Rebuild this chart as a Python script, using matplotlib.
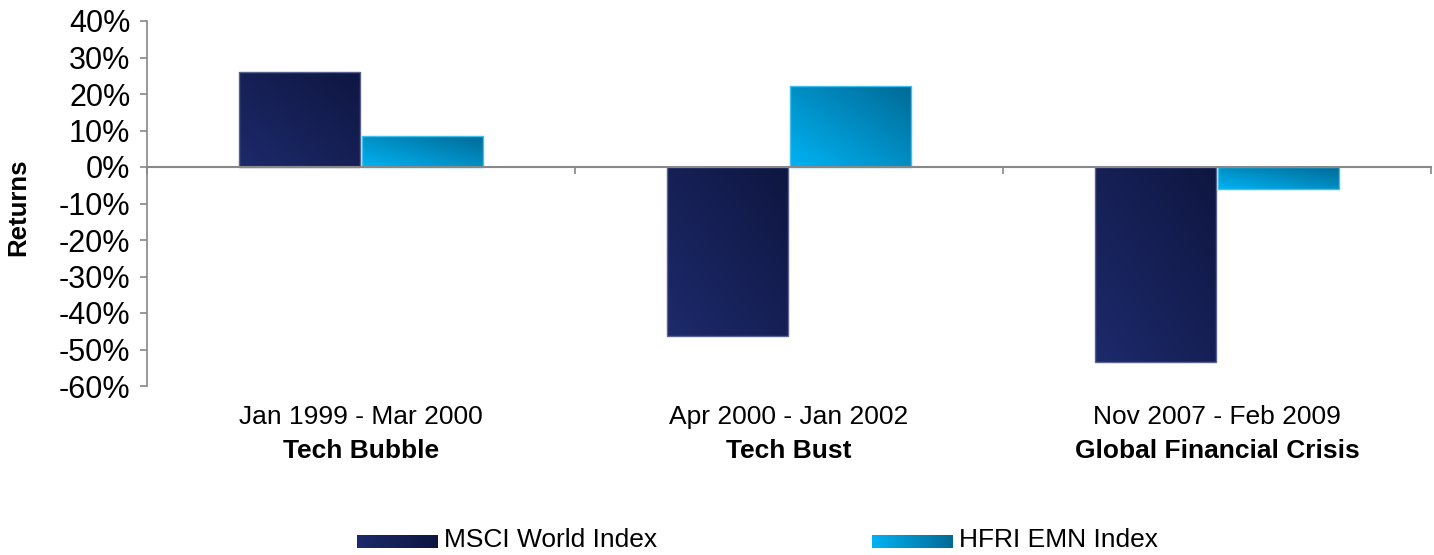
import numpy as np
import matplotlib.pyplot as plt
from matplotlib.colors import LinearSegmentedColormap
from matplotlib.ticker import FuncFormatter, MultipleLocator

periods = ["Jan 1999 - Mar 2000", "Apr 2000 - Jan 2002", "Nov 2007 - Feb 2009"]
events = ["Tech Bubble", "Tech Bust", "Global Financial Crisis"]
series = ["MSCI World Index", "HFRI EMN Index"]
msci = [26.0, -46.3, -53.4]
hfri = [8.5, 22.2, -6.0]

plt.rcParams['font.family'] = ['Liberation Sans', 'DejaVu Sans']

# gradient colours: light (bottom-left) -> dark (top-right)
grads = [("#1d2a6b", "#0e1640"), ("#00b2f2", "#006a96")]
cmaps = [LinearSegmentedColormap.from_list(f"g{i}", g) for i, g in enumerate(grads)]

fig = plt.figure(figsize=(14.34, 5.55), dpi=100)
ax = fig.add_axes([147 / 1434, 1 - 386 / 555, (1431 - 147) / 1434, (386 - 21) / 555])

# diagonal gradient image
gx, gy = np.meshgrid(np.linspace(0, 1, 64), np.linspace(0, 1, 64))
diag = (gx + (1 - gy)) / 2  # origin='upper': row 0 is top

x = np.arange(len(periods))
w = 0.283
gap = 0.0025
for vals, off, cmap, edge in [(msci, -w / 2 - gap, cmaps[0], "#5a6290"),
                              (hfri, w / 2 + gap, cmaps[1], "#3fc0ee")]:
    bars = ax.bar(x + off, vals, width=w, color="none", edgecolor=edge, linewidth=1, zorder=3)
    for b in bars:
        x0, y0 = b.get_x(), b.get_y()
        x1, y1 = x0 + b.get_width(), y0 + b.get_height()
        im = ax.imshow(diag, cmap=cmap, extent=[x0, x1, min(y0, y1), max(y0, y1)],
                       aspect="auto", origin="upper", zorder=2, interpolation="bilinear")
        im.set_clip_path(b)

ax.set_xlim(-0.5, len(periods) - 0.5)
ax.set_ylim(-60, 40)
ax.yaxis.set_major_locator(MultipleLocator(10))
ax.yaxis.set_major_formatter(FuncFormatter(lambda v, p: f"{v:.0f}%"))
ax.tick_params(axis="y", labelsize=22, color="#888888", length=5, width=1.2, pad=7)

for s in ["top", "right"]:
    ax.spines[s].set_visible(False)
ax.spines["left"].set_color("#888888")
ax.spines["left"].set_linewidth(1.2)
ax.spines["bottom"].set_position(("data", 0))
ax.spines["bottom"].set_color("#888888")
ax.spines["bottom"].set_linewidth(1.5)
ax.spines["bottom"].set_zorder(4)
ax.set_xticks(np.arange(len(periods) + 1) - 0.5)
ax.set_xticklabels([])
ax.tick_params(axis="x", color="#888888", length=5, width=1.2, direction="out")

trans = ax.get_xaxis_transform()
for i, (p, e) in enumerate(zip(periods, events)):
    ax.text(i, -0.085, p, transform=trans, ha="center", va="center", fontsize=19)
    ax.text(i, -0.178, e, transform=trans, ha="center", va="center", fontsize=19, fontweight="bold")

fig.text(18 / 1434, 1 - 207 / 555, "Returns", rotation=90, ha="center", va="center",
         fontsize=18.5, fontweight="bold")

# legend with gradient swatches
lax = fig.add_axes([0, 0, 1, 1], zorder=-1)
lax.set_xlim(0, 1434)
lax.set_ylim(555, 0)
lax.axis("off")
hgrad = np.linspace(0, 1, 64)[None, :]
for name, cmap, sx in zip(series, cmaps, [357, 872]):
    lax.imshow(hgrad, cmap=cmap, extent=[sx, sx + 81, 548, 535], aspect="auto",
               interpolation="bilinear")
    lax.text(sx + 87, 540, name, ha="left", va="center", fontsize=19)
lax.set_xlim(0, 1434)
lax.set_ylim(555, 0)

fig.savefig("out.png", dpi=100)
